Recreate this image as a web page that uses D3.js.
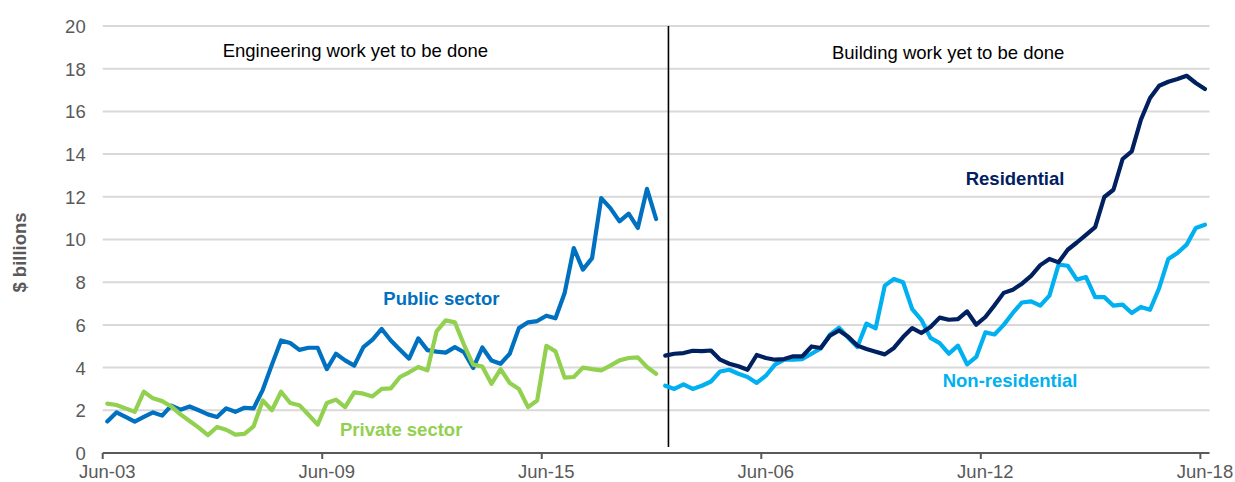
<!DOCTYPE html>
<html>
<head>
<meta charset="utf-8">
<script src="https://cdn.jsdelivr.net/npm/d3@7"></script>
<style>
  html, body { margin: 0; padding: 0; background: #fff; }
  svg { display: block; font-family: "Liberation Sans", Arial, sans-serif; }
</style>
</head>
<body>
<svg id="chart" width="1235" height="482"></svg>
<script>
// Quarterly categories: engineering panel Jun-03..Jun-18, building panel Sep-03..Jun-18
const MONTHS = ["Mar", "Jun", "Sep", "Dec"];
function quarters(startYear, startQ, endYear, endQ) {
  const out = [];
  for (let y = startYear, q = startQ; y < endYear || (y === endYear && q <= endQ); ) {
    out.push(MONTHS[q] + "-" + String(y % 100).padStart(2, "0"));
    q++; if (q > 3) { q = 0; y++; }
  }
  return out;
}
const engineeringQuarters = quarters(2003, 1, 2018, 1);
const buildingQuarters = quarters(2003, 2, 2018, 1);

// Axis labels
const xTickLabels = ["Jun-03", "Jun-09", "Jun-15", "Jun-06", "Jun-12", "Jun-18"];
const yTicks = [0, 2, 4, 6, 8, 10, 12, 14, 16, 18, 20];

// Engineering work yet to be done, $ billions
const publicSector = [
  1.48, 1.90, 1.69, 1.47, 1.69, 1.90, 1.75, 2.22, 2.03, 2.18,
  2.00, 1.81, 1.69, 2.09, 1.93, 2.12, 2.09, 2.96, 4.14, 5.27,
  5.15, 4.83, 4.93, 4.93, 3.93, 4.65, 4.34, 4.09, 4.96, 5.31,
  5.81, 5.27, 4.84, 4.42, 5.37, 4.82, 4.75, 4.70, 4.96, 4.72,
  3.98, 4.94, 4.33, 4.18, 4.65, 5.85, 6.12, 6.18, 6.43, 6.31,
  7.49, 9.60, 8.59, 9.13, 11.94, 11.47, 10.85, 11.21, 10.54, 12.37,
  10.96
];
const privateSector = [
  2.31, 2.25, 2.09, 1.93, 2.87, 2.56, 2.43, 2.18, 1.81, 1.50,
  1.19, 0.84, 1.22, 1.09, 0.86, 0.90, 1.25, 2.46, 2.00, 2.87,
  2.34, 2.24, 1.79, 1.33, 2.34, 2.50, 2.15, 2.84, 2.78, 2.65,
  3.00, 3.03, 3.56, 3.78, 4.03, 3.87, 5.70, 6.21, 6.12, 5.07,
  4.14, 4.05, 3.24, 3.93, 3.28, 3.00, 2.15, 2.46, 5.02, 4.76,
  3.53, 3.56, 4.00, 3.93, 3.87, 4.09, 4.34, 4.45, 4.48, 4.03,
  3.71
];

// Building work yet to be done, $ billions
const residential = [
  4.56, 4.65, 4.68, 4.79, 4.77, 4.80, 4.37, 4.18, 4.06, 3.90,
  4.59, 4.45, 4.37, 4.40, 4.53, 4.53, 4.99, 4.92, 5.49, 5.74,
  5.45, 5.03, 4.87, 4.74, 4.62, 4.92, 5.43, 5.85, 5.62, 5.90,
  6.34, 6.24, 6.27, 6.63, 6.01, 6.37, 6.92, 7.50, 7.65, 7.93,
  8.30, 8.80, 9.09, 8.93, 9.52, 9.86, 10.22, 10.58, 11.99, 12.33,
  13.77, 14.13, 15.61, 16.63, 17.20, 17.39, 17.52, 17.67, 17.33, 17.05
];
const nonResidential = [
  3.15, 3.00, 3.21, 3.00, 3.15, 3.35, 3.82, 3.90, 3.71, 3.56,
  3.28, 3.62, 4.14, 4.37, 4.37, 4.40, 4.65, 4.90, 5.54, 5.87,
  5.40, 4.96, 6.06, 5.84, 7.84, 8.15, 8.00, 6.74, 6.24, 5.39,
  5.15, 4.65, 5.03, 4.15, 4.50, 5.65, 5.55, 6.00, 6.56, 7.05,
  7.10, 6.90, 7.37, 8.82, 8.77, 8.12, 8.24, 7.30, 7.30, 6.90,
  6.95, 6.56, 6.84, 6.71, 7.73, 9.09, 9.37, 9.76, 10.54, 10.69
];

// One shared category axis: engineering quarters, then building quarters
const categories = engineeringQuarters.map(q => "E " + q)
  .concat(buildingQuarters.map(q => "B " + q));
const tickCategories = ["E Jun-03", "E Jun-09", "E Jun-15", "B Jun-06", "B Jun-12", "B Jun-18"];

const svg = d3.select("#chart");
const W = 1235, H = 482;
svg.append("rect").attr("width", W).attr("height", H).attr("fill", "#fff");

const plotLeft = 102.7, plotRight = 1209.5, plotTop = 26, plotBottom = 453;
const x = d3.scaleBand().domain(categories).range([plotLeft, plotRight]).padding(0);
const bw = x.bandwidth();
const cx = c => x(c) + bw / 2;
// fractional category position (for annotations)
const xPos = d3.scaleLinear().domain([0, categories.length - 1]).range([cx(categories[0]), cx(categories[categories.length - 1])]);
const y = d3.scaleLinear().domain([0, 20]).range([plotBottom, plotTop]);

const FONT = 18.5;

// Horizontal gridlines
svg.append("g").selectAll("line").data(yTicks.filter(d => d > 0)).join("line")
  .attr("x1", plotLeft).attr("x2", plotRight)
  .attr("y1", d => y(d)).attr("y2", d => y(d))
  .attr("stroke", "#d9d9d9").attr("stroke-width", 2);

// Y axis tick labels
const yAxis = d3.axisLeft(y).tickValues(yTicks).tickSize(0).tickPadding(0).tickFormat(d3.format("d"));
const gy = svg.append("g").attr("transform", `translate(${plotLeft - 17},0)`).call(yAxis);
gy.select(".domain").remove();
gy.selectAll("text").attr("font-size", FONT).attr("fill", "#595959")
  .attr("font-family", "Liberation Sans, Arial, sans-serif").attr("dy", "0.35em").attr("x", 0);

// Y axis title
svg.append("text")
  .attr("transform", `translate(26,${(plotTop + plotBottom) / 2 + 13}) rotate(-90)`)
  .attr("text-anchor", "middle")
  .attr("font-size", FONT).attr("font-weight", "bold").attr("fill", "#595959")
  .text("$ billions");

// X axis: line with ticks at category edges
const gx = svg.append("g").attr("transform", `translate(0,${plotBottom})`);
gx.append("line").attr("x1", plotLeft).attr("x2", plotRight).attr("y1", 0).attr("y2", 0)
  .attr("stroke", "#595959").attr("stroke-width", 2);
gx.selectAll("line.tick").data(tickCategories).join("line").attr("class", "tick")
  .attr("x1", d => x(d)).attr("x2", d => x(d)).attr("y1", 0).attr("y2", 6)
  .attr("stroke", "#595959").attr("stroke-width", 2);
gx.selectAll("text").data(tickCategories).join("text")
  .attr("x", d => cx(d)).attr("y", 25)
  .attr("text-anchor", "middle").attr("font-size", FONT).attr("fill", "#595959")
  .text((d, i) => xTickLabels[i]);

// Panel divider
const firstB = "B " + buildingQuarters[0];
svg.append("line")
  .attr("x1", x(firstB) + bw * 0.85).attr("x2", x(firstB) + bw * 0.85)
  .attr("y1", plotTop).attr("y2", plotBottom - 6)
  .attr("stroke", "#000").attr("stroke-width", 1.6);

// Series lines
const series = [
  { name: "Public sector", cats: engineeringQuarters.map(q => "E " + q), values: publicSector, color: "#0070c0" },
  { name: "Private sector", cats: engineeringQuarters.map(q => "E " + q), values: privateSector, color: "#92d050" },
  { name: "Non-residential", cats: buildingQuarters.map(q => "B " + q), values: nonResidential, color: "#00b0f0" },
  { name: "Residential", cats: buildingQuarters.map(q => "B " + q), values: residential, color: "#002060" }
];
const line = d3.line().x(d => cx(d.c)).y(d => y(d.v));
svg.append("g").selectAll("path").data(series).join("path")
  .attr("d", s => line(s.values.map((v, i) => ({ c: s.cats[i], v }))))
  .attr("fill", "none").attr("stroke", s => s.color).attr("stroke-width", 4.2)
  .attr("stroke-linejoin", "round").attr("stroke-linecap", "round");

// Panel titles and series labels
const notes = [
  { text: "Engineering work yet to be done", at: 12.62, v: 18.56, color: "#000", bold: false },
  { text: "Building work yet to be done", at: 79.23, v: 18.47, color: "#000", bold: false },
  { text: "Public sector", at: 30.18, v: 6.95, color: "#0070c0", bold: true },
  { text: "Private sector", at: 25.44, v: 0.78, color: "#92d050", bold: true },
  { text: "Residential", at: 93.85, v: 12.57, color: "#002060", bold: true },
  { text: "Non-residential", at: 91.33, v: 3.09, color: "#00b0f0", bold: true }
];
svg.append("g").selectAll("text").data(notes).join("text")
  .attr("x", d => xPos(d.at)).attr("y", d => y(d.v))
  .attr("font-size", FONT).attr("fill", d => d.color)
  .attr("font-weight", d => d.bold ? "bold" : "normal")
  .text(d => d.text);
</script>
</body>
</html>
